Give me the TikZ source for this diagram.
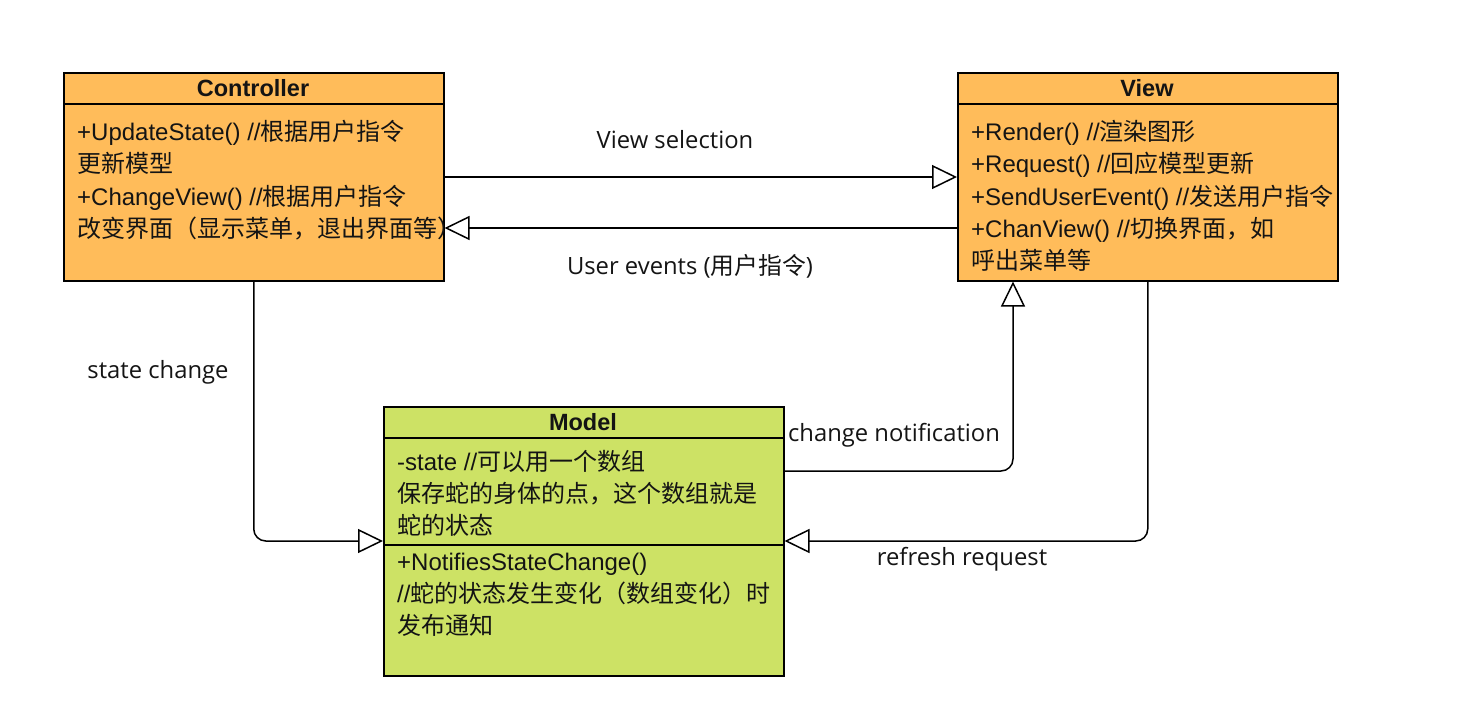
\documentclass[tikz,border=0pt]{standalone}
\usepackage{fontspec}
\setmainfont{Liberation Sans}
\newfontfamily\cjk{Noto Sans CJK SC}
\newfontfamily\lab{Open Sans}
\usetikzlibrary{arrows.meta}
\definecolor{orangefill}{HTML}{FFBC5A}
\definecolor{greenfill}{HTML}{CDE265}
\definecolor{ink}{HTML}{141414}
\tikzset{
  box/.style={draw, line width=1.5pt, anchor=north west, inner sep=0pt},
  txt/.style={anchor=base west, inner sep=0pt, text=ink, font=\fontsize{24}{28}\selectfont},
  ttl/.style={anchor=base, inner sep=0pt, text=ink, font=\fontsize{23.5}{27}\selectfont\bfseries},
  lbl/.style={anchor=base, inner sep=0pt, text=ink, font=\lab\fontsize{23.8}{28}\selectfont},
  conn/.style={line width=1.5pt, rounded corners=12pt},
  tip/.style={-{Triangle[open, length=25pt, width=24pt, line width=1.5pt]}},
  sep/.style={line width=1.5pt}
}
\begin{document}
\begin{tikzpicture}[x=1pt,y=-1pt]
\useasboundingbox (0,0) rectangle (1465,720);

% Controller
\node[box, fill=orangefill, minimum width=380pt, minimum height=208pt] (ctrl) at (63,72) {};
\draw[sep] (63,104) -- (443,104);
\node[ttl] (ctrlT) at (253,96) {Controller};
\node[txt] (c1) at (77,140) {+UpdateState() //{\cjk 根据用户指令}};
\node[txt] (c2) at (77,172) {\cjk 更新模型};
\node[txt] (c3) at (77,205) {+ChangeView() //{\cjk 根据用户指令}};
\node[txt] (c4) at (77,237) {\cjk 改变界面（显示菜单，退出界面等）};

% View
\node[box, fill=orangefill, minimum width=380pt, minimum height=208pt] (view) at (957,72) {};
\draw[sep] (957,104) -- (1337,104);
\node[ttl] (viewT) at (1147,96) {View};
\node[txt] (v1) at (971,140) {+Render() //{\cjk 渲染图形}};
\node[txt] (v2) at (971,172) {+Request() //{\cjk 回应模型更新}};
\node[txt] (v3) at (971,205) {+SendUserEvent() //{\cjk 发送用户指令}};
\node[txt] (v4) at (971,237) {+ChanView() //{\cjk 切换界面，如}};
\node[txt] (v5) at (971,269) {\cjk 呼出菜单等};

% Model
\node[box, fill=greenfill, minimum width=400pt, minimum height=269pt] (model) at (383,406) {};
\draw[sep] (383,438) -- (783,438);
\draw[sep] (383,545) -- (783,545);
\node[ttl] (modelT) at (583,430) {Model};
\node[txt] (m1) at (397,470) {-state //{\cjk 可以用一个数组}};
\node[txt] (m2) at (397,502) {\cjk 保存蛇的身体的点，这个数组就是};
\node[txt] (m3) at (397,534) {\cjk 蛇的状态};
\node[txt] (m4) at (397,570) {+NotifiesStateChange()};
\node[txt] (m5) at (397,602) {//{\cjk 蛇的状态发生变化（数组变化）时}};
\node[txt] (m6) at (397,634) {\cjk 发布通知};

% Connectors
\draw[conn,tip] ([yshift=-105pt]ctrl.north east) -- ([yshift=-105pt]view.north west);
\draw[conn,tip] ([yshift=-156pt]view.north west) -- ([yshift=-156pt]ctrl.north east);
\draw[conn,tip] (ctrl.south) |- ([yshift=-135pt]model.north west);
\draw[conn,tip] ([yshift=-65pt]model.north east) -| ([xshift=56pt]view.south west);
\draw[conn,tip] (view.south) |- ([yshift=-135pt]model.north east);

% Labels
\node[lbl] (l1) at (675,148) {View selection};
\node[lbl] (l2) at (690,274) {User events ({\cjk 用户指令})};
\node[lbl] (l3) at (158,378) {state change};
\node[lbl] (l4) at (894,441) {change notification};
\node[lbl] (l5) at (962,565) {refresh request};
\end{tikzpicture}
\end{document}
